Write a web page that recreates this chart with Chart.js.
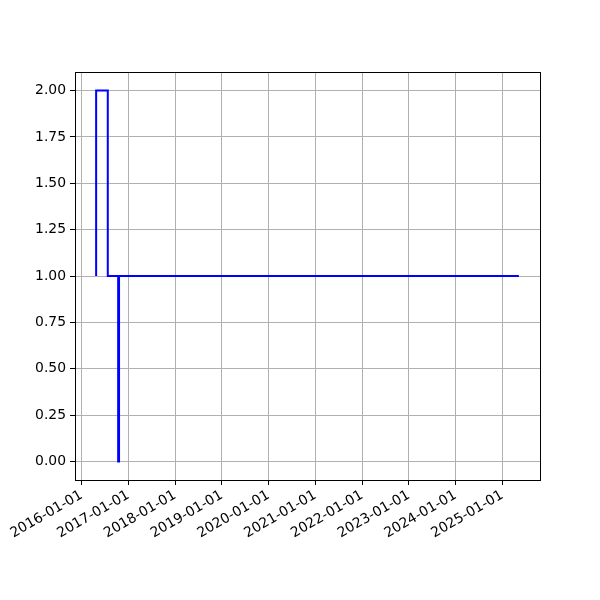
<!DOCTYPE html>
<html>
<head>
<meta charset="utf-8">
<script src="https://cdn.jsdelivr.net/npm/chart.js@4/dist/chart.umd.min.js"></script>
<style>
  html, body { margin: 0; padding: 0; background: #fff; }
  #wrap { width: 600px; height: 600px; }
</style>
</head>
<body>
<div id="wrap"><canvas id="chart" width="600" height="600"></canvas></div>
<script>
// data (step series, value held until the next date)
const dates = ["2016-04-24", "2016-04-24", "2016-07-24", "2016-10-13", "2016-10-20", "2025-05-10"];
const values = [1, 2, 1, 0, 1, 1];
const yTicks = [0, 0.25, 0.5, 0.75, 1.0, 1.25, 1.5, 1.75, 2.0];
const xTickYears = [2016, 2017, 2018, 2019, 2020, 2021, 2022, 2023, 2024, 2025];

const toMs = (s) => Date.parse(s + "T00:00:00Z");
const xs = dates.map(toMs);
const points = xs.map((x, i) => ({ x: x, y: values[i] }));

// matplotlib-like 5% margins
const xMinD = Math.min(...xs), xMaxD = Math.max(...xs);
const xPad = (xMaxD - xMinD) * 0.05;
const yPad = (Math.max(...values) - Math.min(...values)) * 0.05;

const pad2 = (n) => String(n).padStart(2, "0");
function fmtDate(ms) {
  const d = new Date(ms);
  return d.getUTCFullYear() + "-" + pad2(d.getUTCMonth() + 1) + "-" + pad2(d.getUTCDate());
}

const frame = {
  id: "frame",
  afterDraw(chart) {
    const a = chart.chartArea;
    const c = chart.ctx;
    c.save();
    c.strokeStyle = "#000";
    c.lineWidth = 1;
    c.strokeRect(Math.round(a.left) + 0.5, Math.round(a.top) + 0.5,
      Math.round(a.right - a.left), Math.round(a.bottom - a.top));
    c.restore();
  }
};

const font = { family: "'DejaVu Sans', sans-serif", size: 13.9 };

new Chart(document.getElementById("chart"), {
  type: "line",
  data: {
    datasets: [{
      data: points,
      borderColor: "#0000ff",
      borderWidth: 2,
      pointRadius: 0,
      stepped: "before",
      fill: false
    }]
  },
  options: {
    responsive: false,
    animation: false,
    layout: { padding: { top: 72, right: 60, left: 0, bottom: 0 } },
    plugins: { legend: { display: false }, tooltip: { enabled: false } },
    scales: {
      x: {
        type: "linear",
        min: xMinD - xPad,
        max: xMaxD + xPad,
        afterBuildTicks: (s) => { s.ticks = xTickYears.map((y) => ({ value: Date.UTC(y, 0, 1) })); },
        afterFit: (s) => { s.height = 120; },
        grid: { color: "#b0b0b0", lineWidth: 1, tickColor: "#000", tickLength: 5 },
        border: { display: false },
        ticks: {
          color: "#000",
          font: font,
          maxRotation: 30,
          minRotation: 30,
          padding: 2,
          autoSkip: false,
          callback: (v) => fmtDate(v)
        }
      },
      y: {
        min: Math.min(...values) - yPad,
        max: Math.max(...values) + yPad,
        afterBuildTicks: (s) => { s.ticks = yTicks.map((v) => ({ value: v })); },
        afterFit: (s) => { s.width = 75; },
        grid: { color: "#b0b0b0", lineWidth: 1, tickColor: "#000", tickLength: 5 },
        border: { display: false },
        ticks: {
          color: "#000",
          font: font,
          padding: 4,
          callback: (v) => v.toFixed(2)
        }
      }
    }
  },
  plugins: [frame]
});
</script>
</body>
</html>
